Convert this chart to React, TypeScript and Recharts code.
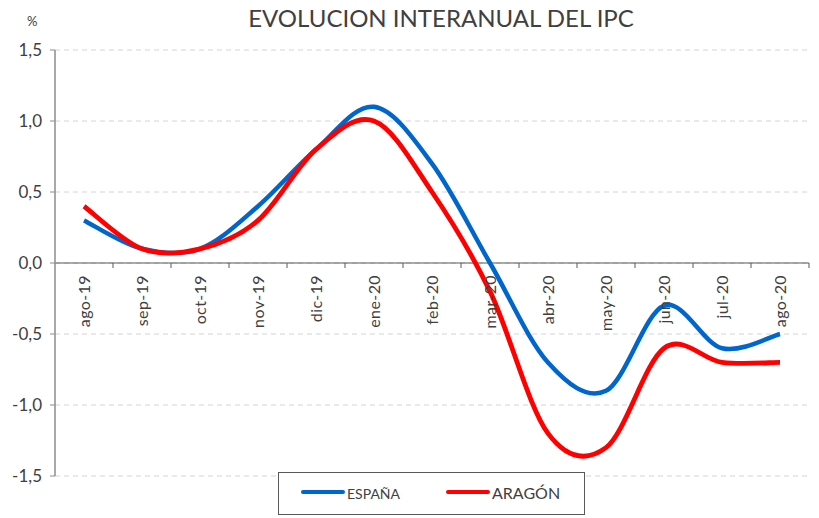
import React from 'react';
import { LineChart, Line, XAxis, YAxis, CartesianGrid, ReferenceLine } from 'recharts';

const categories = ['ago-19', 'sep-19', 'oct-19', 'nov-19', 'dic-19', 'ene-20', 'feb-20', 'mar-20', 'abr-20', 'may-20', 'jun-20', 'jul-20', 'ago-20'];
const espana = [0.3, 0.1, 0.1, 0.4, 0.8, 1.1, 0.7, 0.0, -0.7, -0.9, -0.3, -0.6, -0.5];
const aragon = [0.4, 0.1, 0.1, 0.3, 0.8, 1.0, 0.5, -0.2, -1.2, -1.3, -0.6, -0.7, -0.7];
const yTicks = [-1.5, -1.0, -0.5, 0, 0.5, 1.0, 1.5];
const seriesNames = ['ESPAÑA', 'ARAGÓN'];
const title = 'EVOLUCION INTERANUAL DEL IPC';
const unitLabel = '%';

const data = categories.map((c, i) => ({ month: c, espana: espana[i], aragon: aragon[i] }));

const W = 819;
const H = 518;
const M = { top: 50, right: 10, bottom: 41, left: 10 };
const Y_AXIS_W = 45;
const X_AXIS_H = 1;
const PLOT_H = H - M.top - M.bottom - X_AXIS_H;
const PLOT_W = W - M.left - M.right - Y_AXIS_W;
const BAND = PLOT_W / categories.length;
const Y_MIN = -1.5;
const Y_MAX = 1.5;
const ZERO_Y = M.top + PLOT_H * (Y_MAX / (Y_MAX - Y_MIN));

const BLUE = '#0066CC';
const RED = '#FF0000';
const TEXT = '#404040';

// Excel-like smoothed line (Catmull-Rom style bezier)
const smoothCurve = (context: any) => {
  let pts: number[][] = [];
  return {
    areaStart() {},
    areaEnd() {},
    lineStart() {
      pts = [];
    },
    lineEnd() {
      if (!pts.length) return;
      context.moveTo(pts[0][0], pts[0][1]);
      for (let i = 0; i < pts.length - 1; i++) {
        const p0 = pts[i - 1] || pts[i];
        const p1 = pts[i];
        const p2 = pts[i + 1];
        const p3 = pts[i + 2] || pts[i + 1];
        const c1x = p1[0] + (p2[0] - p0[0]) / 6;
        const c1y = p1[1] + (p2[1] - p0[1]) / 6;
        const c2x = p2[0] - (p3[0] - p1[0]) / 6;
        const c2y = p2[1] - (p3[1] - p1[1]) / 6;
        context.bezierCurveTo(c1x, c1y, c2x, c2y, p2[0], p2[1]);
      }
    },
    point(x: number, y: number) {
      pts.push([+x, +y]);
    },
  };
};

const XTick = (props: any) => {
  const { x, payload } = props;
  const ty = ZERO_Y + 12;
  return (
    <g>
      <line x1={x + BAND / 2} x2={x + BAND / 2} y1={ZERO_Y} y2={ZERO_Y + 5} stroke="#595959" strokeWidth={1} />
      <text
        x={x}
        y={ty}
        dy="0.35em"
        textAnchor="end"
        transform={`rotate(-90, ${x}, ${ty})`}
        fill={TEXT}
        fontSize={16}
        letterSpacing={0.4}
        fontFamily="Lato, sans-serif"
      >
        {payload.value}
      </text>
    </g>
  );
};

const fmt = (v: number) => v.toFixed(1).replace('.', ',');

export default function App() {
  return (
    <div style={{ position: 'absolute', left: 0, top: 0, width: W, height: H, background: '#fff', fontFamily: 'Lato, sans-serif' }}>
      <div style={{ position: 'absolute', left: 0, width: 882, top: 4, textAlign: 'center', fontSize: 24, lineHeight: '28px', color: TEXT }}>
        {title}
      </div>
      <div style={{ position: 'absolute', left: 27, top: 13, fontSize: 13, lineHeight: '16px', color: TEXT }}>{unitLabel}</div>
      <LineChart width={W} height={H} data={data} margin={M}>
        <CartesianGrid vertical={false} stroke="#d4d4d4" strokeDasharray="5 4" />
        <XAxis
          dataKey="month"
          axisLine={false}
          tickLine={false}
          height={X_AXIS_H}
          padding={{ left: BAND / 2, right: BAND / 2 }}
          interval={0}
          tick={<XTick />}
        />
        <YAxis
          width={Y_AXIS_W}
          domain={[Y_MIN, Y_MAX]}
          ticks={yTicks}
          tickFormatter={fmt}
          axisLine={{ stroke: '#8c8c8c', strokeWidth: 1.5 }}
          tickLine={{ stroke: '#8c8c8c' }}
          tickSize={5}
          tickMargin={8}
          tick={{ fill: TEXT, fontSize: 17, fontFamily: 'Lato, sans-serif' }}
          interval={0}
        />
        <ReferenceLine y={0} stroke="#595959" strokeWidth={1.2} />
        <Line type={smoothCurve as any} dataKey="espana" name={seriesNames[0]} stroke={BLUE} strokeWidth={4.5} dot={false} isAnimationActive={false} />
        <Line type={smoothCurve as any} dataKey="aragon" name={seriesNames[1]} stroke={RED} strokeWidth={4.8} dot={false} isAnimationActive={false} />
      </LineChart>
      <div
        style={{
          position: 'absolute',
          left: 278,
          top: 472,
          width: 305,
          height: 41,
          border: '1px solid #595959',
          background: '#fff',
        }}
      >
        <div style={{ position: 'absolute', left: 22, top: 17, width: 44, height: 4, borderRadius: 2, background: BLUE }} />
        <div style={{ position: 'absolute', left: 68, top: 13, fontSize: 14, lineHeight: '16px', color: TEXT }}>{seriesNames[0]}</div>
        <div style={{ position: 'absolute', left: 167, top: 17, width: 44, height: 4, borderRadius: 2, background: RED }} />
        <div style={{ position: 'absolute', left: 213, top: 11, fontSize: 16, lineHeight: '18px', color: TEXT }}>{seriesNames[1]}</div>
      </div>
    </div>
  );
}
